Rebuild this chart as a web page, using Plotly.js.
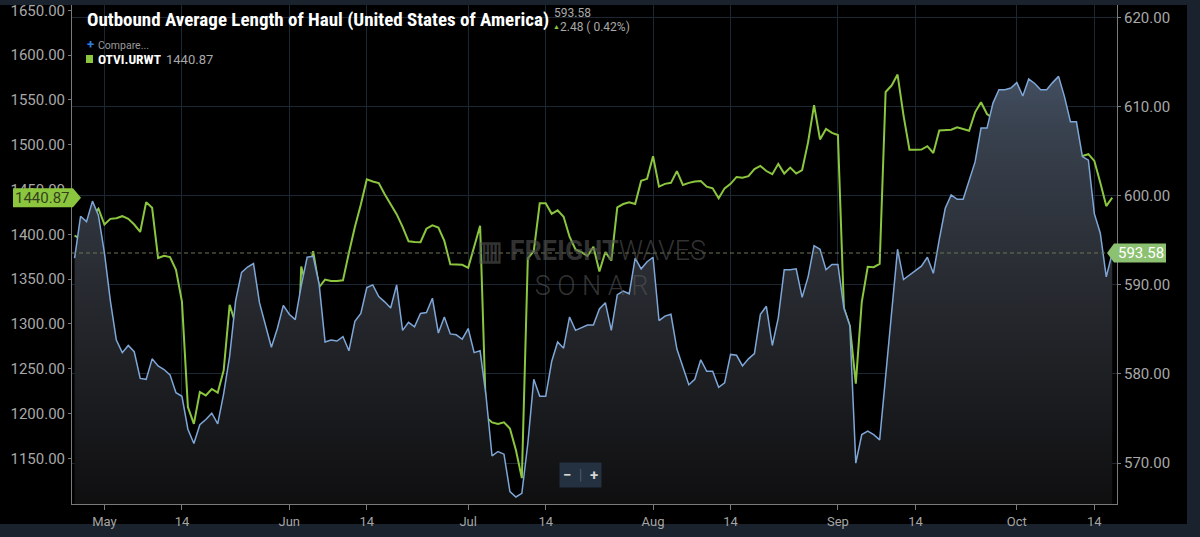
<!DOCTYPE html>
<html>
<head>
<meta charset="utf-8">
<script src="https://cdn.plot.ly/plotly-3.0.1.min.js"></script>
<style>
html,body{margin:0;padding:0;background:#1a232d;overflow:hidden;}
#chart{width:1200px;height:537px;}
</style>
</head>
<body>
<div id="chart"></div>
<script>
// ---- data ----
const startDate = '2019-04-26';

// Outbound Average Length of Haul (right axis, blue area)
const lengthOfHaul = [
593.0, 597.7, 597.1, 599.4, 597.8, 593.6, 588.2, 583.8, 582.4, 583.2,
582.5, 579.5, 579.4, 581.7, 580.9, 580.5, 579.9, 577.9, 577.5, 573.8,
572.2, 574.3, 574.9, 575.6, 574.4, 577.8, 582.0, 588.2, 591.4, 592.0,
592.4, 588.0, 585.5, 583.0, 585.1, 587.7, 586.7, 586.1, 589.9, 593.1,
593.2, 590.1, 583.6, 583.8, 583.7, 584.2, 582.6, 585.9, 586.8, 589.7,
590.0, 588.7, 588.1, 587.4, 590.0, 584.9, 585.8, 585.3, 586.8, 586.9,
588.5, 584.6, 586.4, 584.5, 584.4, 583.9, 585.1, 582.4, 582.6, 577.5,
570.8, 571.3, 571.0, 566.8, 566.2, 566.6, 572.2, 579.4, 577.5, 577.5,
581.4, 583.6, 582.9, 586.4, 584.9, 585.2, 585.5, 585.5, 587.3, 588.0,
584.9, 588.9, 589.3, 589.0, 593.0, 591.8, 592.6, 593.1, 586.0, 586.5,
586.7, 582.8, 580.8, 578.8, 579.4, 581.6, 580.3, 580.3, 578.5, 579.0,
582.2, 582.1, 580.9, 581.7, 582.3, 586.7, 587.6, 583.2, 586.3, 591.7,
591.7, 591.8, 588.6, 590.9, 594.4, 594.0, 591.7, 592.3, 592.3, 587.4,
585.4, 570.0, 573.2, 573.6, 573.2, 572.6, 579.7, 586.8, 594.0, 590.6,
591.1, 591.5, 592.1, 593.1, 591.3, 595.1, 598.6, 600.1, 599.6, 599.6,
601.8, 603.8, 607.6, 607.6, 610.4, 611.9, 611.9, 612.1, 612.7, 611.2,
613.1, 612.6, 611.9, 611.9, 612.7, 613.4, 611.1, 608.3, 608.3, 604.4,
604.0, 598.0, 595.8, 590.9, 593.58
];

// OTVI.URWT (left axis, green line)
const otviUrwt = [
1398.6, 1394.8, 1395.9, 1421.0, 1428.5, 1410.9, 1417.2, 1418.0, 1420.2, 1417.2,
1410.9, 1402.6, 1435.9, 1429.6, 1373.5, 1376.1, 1374.6, 1360.4, 1324.9, 1207.2,
1188.5, 1224.0, 1220.2, 1227.4, 1223.2, 1248.3, 1321.2, 1299.9, 1313.6, 1319.6,
1313.1, 1143.1, 1149.6, 1103.0, 1170.5, 1164.0, 1169.8, 1171.7, 1364.0, 1339.0,
1381.3, 1340.9, 1349.4, 1347.8, 1347.8, 1348.6, 1379.4, 1408.2, 1433.2, 1461.3,
1459.0, 1457.1, 1444.8, 1433.2, 1422.5, 1408.2, 1392.2, 1391.4, 1391.1, 1406.2,
1410.0, 1407.6, 1392.6, 1366.6, 1366.4, 1366.0, 1362.6, 1385.6, 1409.6, 1196.1,
1190.1, 1188.2, 1190.1, 1183.3, 1159.2, 1127.9, 1373.2, 1381.2, 1434.6, 1434.6,
1422.9, 1426.7, 1419.6, 1397.3, 1383.1, 1380.0, 1375.8, 1386.1, 1358.4, 1380.2,
1370.7, 1430.1, 1433.8, 1435.6, 1433.8, 1459.6, 1461.9, 1487.1, 1453.2, 1456.3,
1457.4, 1470.5, 1455.1, 1457.4, 1459.0, 1459.4, 1453.2, 1451.3, 1440.1, 1451.3,
1456.3, 1464.0, 1463.2, 1464.8, 1472.8, 1476.3, 1470.6, 1467.1, 1478.6, 1467.8,
1474.4, 1467.8, 1471.7, 1502.9, 1544.2, 1505.9, 1517.6, 1513.1, 1510.8, 1317.6,
1297.8, 1233.3, 1324.4, 1363.7, 1363.3, 1367.0, 1558.8, 1566.0, 1578.3, 1532.8,
1494.4, 1494.4, 1494.6, 1498.3, 1490.7, 1515.8, 1516.1, 1516.7, 1519.3, 1517.4,
1515.6, 1536.1, 1547.3, 1534.3, 1529.4, 1528.6, 1528.6, 1529.4, 1523.0, 1485.7,
1487.5, 1483.8, 1481.9, 1480.1, 1473.3, 1481.9, 1509.2, 1491.3, 1486.8, 1487.5,
1489.4, 1481.9, 1457.6, 1431.5, 1440.87
];

const tickDates = ['2019-05-01','2019-05-14','2019-06-01','2019-06-14','2019-07-01','2019-07-14',
                   '2019-08-01','2019-08-14','2019-09-01','2019-09-14','2019-10-01','2019-10-14'];
const tickLabels = ['May','14','Jun','14','Jul','14','Aug','14','Sep','14','Oct','14'];
const leftTicks = [1150, 1200, 1250, 1300, 1350, 1400, 1450, 1500, 1550, 1600, 1650];
const rightTicks = [570, 580, 590, 600, 610, 620];

const titleText = 'Outbound Average Length of Haul (United States of America)';
const compareSeries = 'OTVI.URWT';
const haulChange = 2.48;
const haulChangePct = 0.42;

// ---- derived ----
const dates = lengthOfHaul.map((_, i) => {
  const d = new Date(startDate + 'T00:00:00Z');
  d.setUTCDate(d.getUTCDate() + i);
  return d.toISOString().slice(0, 10);
});
const lastHaul = lengthOfHaul[lengthOfHaul.length - 1];
const lastOtvi = otviUrwt[otviUrwt.length - 1];

// pixel helpers for layout decorations (plot area: x 72..1117, y 5..504)
const L = 72, R = 1117, T = 5, B = 504;
const px = x => (x - L) / (R - L);
const py = y => (B - y) / (B - T);

const green = '#8cc63f';
const blue = '#7ea7d8';
const gridC = '#1c2734';
const axisC = '#7a7a7a';
const narrow = 'Liberation Sans Narrow, Roboto Condensed, DejaVu Sans Condensed, Arial Narrow, Roboto, sans-serif';

const traces = [
  {
    x: dates, y: lengthOfHaul, yaxis: 'y2', type: 'scatter', mode: 'lines',
    line: {color: blue, width: 1.5},
    fill: 'tozeroy',
    fillgradient: {type: 'vertical', start: 565.4, stop: 621.4,
      colorscale: [[0, '#0f0f10'], [0.45, '#282b31'], [0.75, '#38414e'], [1, '#4f5f78']]},
    hoverinfo: 'skip'
  },
  {
    x: dates, y: otviUrwt, yaxis: 'y', type: 'scatter', mode: 'lines',
    line: {color: green, width: 2},
    hoverinfo: 'skip'
  }
];

const layout = {
  width: 1200, height: 537,
  margin: {l: L, r: 1200 - R, t: T, b: 537 - B, pad: 0},
  paper_bgcolor: '#1a232d',
  plot_bgcolor: '#000000',
  showlegend: false,
  font: {family: 'Roboto, sans-serif', color: '#a8a8a8'},
  xaxis: {
    type: 'date', range: ['2019-04-25 13:32', '2019-10-17 19:12'],
    tickmode: 'array', tickvals: tickDates, ticktext: tickLabels,
    showgrid: true, gridcolor: gridC, gridwidth: 1,
    showline: true, linecolor: axisC, linewidth: 1,
    ticks: 'outside', ticklen: 5, tickcolor: axisC,
    tickfont: {size: 13, color: '#a5a5a5'}, zeroline: false, fixedrange: true
  },
  yaxis: {
    range: [1099.0, 1655.9], tickmode: 'array', tickvals: leftTicks,
    ticktext: leftTicks.map(v => v.toFixed(2)),
    showgrid: false, zeroline: false,
    showline: true, linecolor: axisC, linewidth: 1,
    ticks: 'outside', ticklen: 3, tickcolor: axisC,
    tickfont: {size: 15, color: '#a8a8a8'}, fixedrange: true
  },
  yaxis2: {
    overlaying: 'y', side: 'right',
    range: [565.41, 621.41], tickmode: 'array', tickvals: rightTicks,
    ticktext: rightTicks.map(v => v.toFixed(2)),
    showgrid: true, gridcolor: gridC, gridwidth: 1, zeroline: false,
    showline: true, linecolor: axisC, linewidth: 1,
    ticks: 'outside', ticklen: 3, tickcolor: axisC,
    tickfont: {size: 15, color: '#a8a8a8'}, fixedrange: true
  },
  shapes: [
    // black chart canvas inside the dark frame
    {type: 'rect', xref: 'paper', yref: 'paper', x0: px(0), x1: px(1187), y0: py(524), y1: py(5),
     fillcolor: '#000000', line: {width: 0}, layer: 'below'},
    // current-value dashed line
    {type: 'line', xref: 'paper', yref: 'y2', x0: 0, x1: 1, y0: lastHaul, y1: lastHaul,
     line: {color: '#6c7556', width: 1, dash: '4px,3px'}, layer: 'above'},
    // left value flag (green series)
    {type: 'path', xref: 'paper', yref: 'y', xsizemode: 'pixel', ysizemode: 'pixel',
     xanchor: 0, yanchor: lastOtvi,
     path: 'M -59 -9.5 L 1 -9.5 L 9 0 L 1 9.5 L -59 9.5 Z',
     fillcolor: green, line: {width: 0}, layer: 'above'},
    // right value flag (blue series)
    {type: 'path', xref: 'paper', yref: 'y2', xsizemode: 'pixel', ysizemode: 'pixel',
     xanchor: 1, yanchor: lastHaul,
     path: 'M -10 0 L -3 -9.5 L 49 -9.5 L 49 9.5 L -3 9.5 Z',
     fillcolor: '#8dc172', line: {width: 0}, layer: 'above'},
    // legend swatch
    {type: 'rect', xref: 'paper', yref: 'paper', x0: px(86), x1: px(93), y0: py(63), y1: py(55),
     fillcolor: green, line: {width: 0}, layer: 'above'}
  ],
  annotations: [
    {xref: 'paper', yref: 'paper', x: px(85), y: py(19.5), xanchor: 'left', yanchor: 'middle',
     text: '<b>' + titleText + '</b>', showarrow: false,
     font: {family: narrow, size: 19, color: '#ffffff'}},
    {xref: 'paper', yref: 'paper', x: px(552), y: py(13), xanchor: 'left', yanchor: 'middle',
     text: lastHaul.toFixed(2), showarrow: false, font: {size: 12, color: '#a9a9a9'}},
    {xref: 'paper', yref: 'paper', x: px(551), y: py(27), xanchor: 'left', yanchor: 'middle',
     text: '▲', showarrow: false, font: {size: 7, color: green}},
    {xref: 'paper', yref: 'paper', x: px(558), y: py(27), xanchor: 'left', yanchor: 'middle',
     text: haulChange.toFixed(2) + ' ( ' + haulChangePct.toFixed(2) + '%)', showarrow: false,
     font: {size: 12, color: '#a9a9a9'}},
    {xref: 'paper', yref: 'paper', x: px(85), y: py(45), xanchor: 'left', yanchor: 'middle',
     text: '<b>+</b>', showarrow: false, font: {size: 13, color: '#2f7fe0'}},
    {xref: 'paper', yref: 'paper', x: px(96), y: py(45.5), xanchor: 'left', yanchor: 'middle',
     text: 'Compare...', showarrow: false, font: {size: 10.5, color: '#9a9a9a'}},
    {xref: 'paper', yref: 'paper', x: px(96), y: py(59), xanchor: 'left', yanchor: 'middle',
     text: '<b>' + compareSeries + '</b>', showarrow: false,
     font: {family: narrow, size: 13.5, color: '#ffffff'}},
    {xref: 'paper', yref: 'paper', x: px(164), y: py(59), xanchor: 'left', yanchor: 'middle',
     text: lastOtvi.toFixed(2), showarrow: false, font: {size: 13, color: '#a8a8a8'}},
    // value flags text
    {xref: 'paper', yref: 'y', x: 0, y: lastOtvi, xanchor: 'center', yanchor: 'middle', xshift: -30,
     text: lastOtvi.toFixed(2), showarrow: false, font: {size: 15, color: '#33421c'}},
    {xref: 'paper', yref: 'y2', x: 1, y: lastHaul, xanchor: 'center', yanchor: 'middle', xshift: 24,
     text: lastHaul.toFixed(2), showarrow: false, font: {size: 15, color: '#ffffff'}},
    // watermark (one text block, two lines)
    {xref: 'paper', yref: 'paper', x: px(591), y: py(268), xanchor: 'center', yanchor: 'middle',
     text: '<b>▥ FREIGHT</b>WAVES<br>S O N A R', showarrow: false, align: 'center',
     font: {size: 27, color: 'rgba(85,85,85,0.6)', weight: 300}},
    // zoom control
    {xref: 'paper', yref: 'paper', x: px(580), y: py(475), xanchor: 'center', yanchor: 'middle',
     text: '<b>−</b>  <span style="color:#4b5b6b">|</span>  <b>+</b>', showarrow: false,
     bgcolor: '#233140', borderpad: 3, font: {size: 15, color: '#d5d5d5'}}
  ]
};

Plotly.newPlot('chart', traces, layout, {staticPlot: true, displayModeBar: false});
</script>
</body>
</html>
